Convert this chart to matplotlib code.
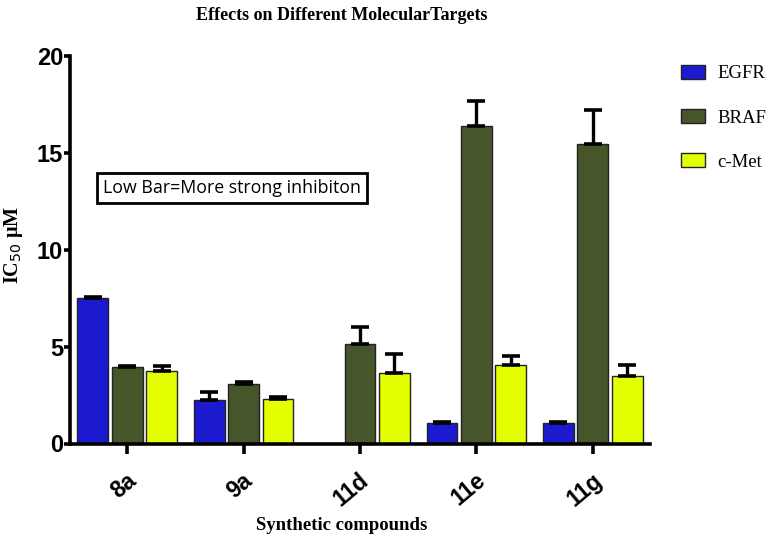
import numpy as np
import matplotlib
matplotlib.use("Agg")
import matplotlib.pyplot as plt
import matplotlib.transforms as mtransforms

compounds = ["8a", "9a", "11d", "11e", "11g"]
series = ["EGFR", "BRAF", "c-Met"]
egfr = [7.5, 2.23, np.nan, 1.04, 1.04]
egfr_err = [0.08, 0.42, 0.0, 0.08, 0.08]
braf = [3.93, 3.05, 5.13, 16.4, 15.45]
braf_err = [0.05, 0.1, 0.9, 1.3, 1.77]
cmet = [3.72, 2.31, 3.64, 4.05, 3.48]
cmet_err = [0.3, 0.1, 0.97, 0.46, 0.57]
colors = ["#1c1acf", "#47552a", "#e3ff00"]
yticks = [0, 5, 10, 15, 20]

fig = plt.figure(figsize=(7.74, 5.38), dpi=100)
ax = fig.add_axes([70/774, 1-443.5/538, 580/774, (443.5-56)/538])

x = np.arange(len(compounds))
width = 0.266
offsets = [-0.296, 0.0, 0.296]
values = [egfr, braf, cmet]
errs = [egfr_err, braf_err, cmet_err]
for i in range(3):
    v = np.array(values[i], dtype=float)
    e = np.array(errs[i], dtype=float)
    ax.bar(x + offsets[i], v, width, color=colors[i], edgecolor="#222222",
           linewidth=1.0, label=series[i], zorder=2)
    mask = ~np.isnan(v)
    ax.errorbar((x + offsets[i])[mask], v[mask],
                yerr=[np.zeros(mask.sum()), e[mask]], fmt="none",
                ecolor="black", elinewidth=2.4, capsize=6.5, capthick=2.6,
                zorder=3)

ax.set_xlim(-0.49, 4.49)
ax.set_ylim(0, 20)
ax.set_yticks(yticks)
ax.set_yticklabels([str(t) for t in yticks], fontsize=17, fontweight="bold",
                   family="Liberation Sans")
ax.set_xticks(x)
ax.set_xticklabels([""] * len(compounds))
shift = mtransforms.ScaledTranslation(6/100, -34/100, fig.dpi_scale_trans)
for xi, name in zip(x, compounds):
    ax.text(xi, 0, name, transform=ax.get_xaxis_transform() + shift,
            fontsize=16.5, fontweight="bold", family="Liberation Sans",
            rotation=40, rotation_mode="anchor", ha="right", va="center")
for s in ["top", "right"]:
    ax.spines[s].set_visible(False)
for s in ["left", "bottom"]:
    ax.spines[s].set_linewidth(2.6)
ax.tick_params(axis="y", length=4, width=2.6, pad=1)
ax.tick_params(axis="x", length=7, width=2.6)

fig.text(342/774, 1-16/538, "Effects on Different MolecularTargets",
         ha="center", va="center", fontsize=13, fontweight="bold",
         family="Liberation Serif")
fig.text(342/774, 1-525/538, "Synthetic compounds", ha="center", va="center",
         fontsize=13.5, fontweight="bold", family="Liberation Serif")
fig.text(14/774, 1-245/538, r"IC$_{50}$ $\mathregular{\mu}$M", ha="center", va="center",
         rotation=90, fontsize=14.5, fontweight="bold", family="Liberation Serif")

fig.text(232/774, 1-188/538, "Low Bar=More strong inhibiton", ha="center",
         va="center", fontsize=12.8, family="Open Sans",
         bbox=dict(boxstyle="square,pad=0.32", facecolor="white",
                   edgecolor="black", linewidth=2))

leg = fig.legend(loc="upper left", bbox_to_anchor=(681/774, 1-65/538),
                 frameon=False, prop={"family": "Liberation Serif", "size": 13.5},
                 handlelength=1.3, handleheight=0.75, labelspacing=1.43,
                 handletextpad=0.65, borderpad=0, borderaxespad=0)

fig.savefig("out.png", dpi=100)
